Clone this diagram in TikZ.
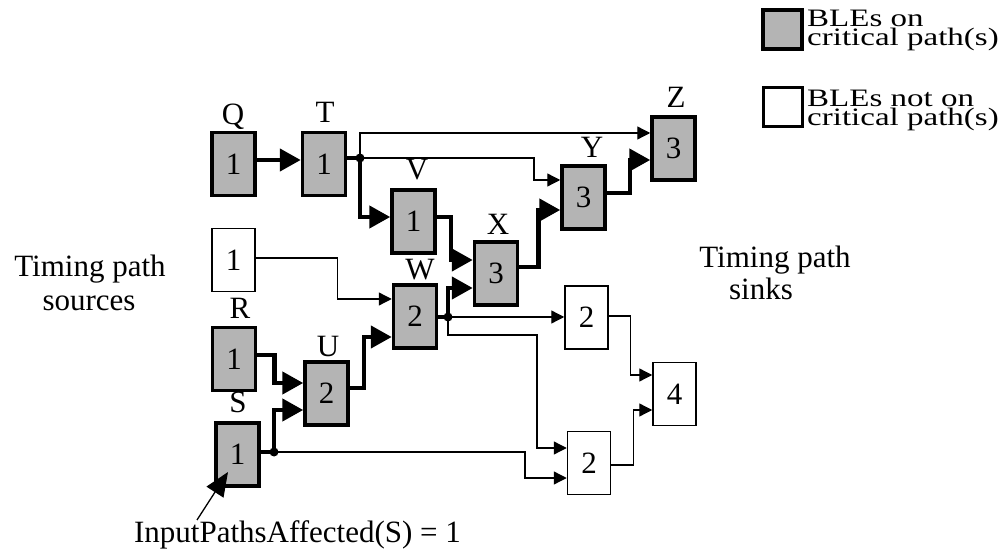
\documentclass[tikz,border=0pt]{standalone}
\usepackage{fontspec}
\setmainfont{Liberation Serif}
\usepackage{graphicx}
\usetikzlibrary{arrows.meta,calc}
\definecolor{critgray}{RGB}{180,180,180}
\tikzset{
  crit/.style={draw, line width=3.5pt, fill=critgray, minimum width=43pt, minimum height=63pt, inner sep=0pt, font=\fontsize{31}{35}\selectfont},
  noncrit/.style={draw, line width=1.5pt, fill=white, minimum width=43pt, minimum height=63pt, inner sep=0pt, font=\fontsize{31}{35}\selectfont},
  lbl/.style={anchor=base, inner sep=0pt, font=\fontsize{31}{35}\selectfont},
  thickarrow/.style={line width=4.5pt, -{Triangle[length=21pt,width=22pt]}},
  thickline/.style={line width=4.5pt},
  thinarrow/.style={line width=1.3pt, -{Triangle[length=13pt,width=13pt]}},
  thinline/.style={line width=1.3pt},
  legtext/.style={anchor=base west, inner sep=0pt},
}
\newcommand{\legfont}[1]{\scalebox{1}[0.76]{\fontsize{33}{36}\selectfont #1}}
\begin{document}
\begin{tikzpicture}[x=1pt,y=-1pt]
\useasboundingbox (0,0) rectangle (1002,553);
% legend
\node[draw, line width=3.5pt, fill=critgray, minimum width=39pt, minimum height=39pt, inner sep=0pt] (legcrit) at (782.5,29.5) {};
\node[draw, line width=3pt, fill=white, minimum width=39pt, minimum height=39pt, inner sep=0pt] (legnon) at (782.5,107.5) {};
\node[legtext] (lt1) at (807,27) {\legfont{BLEs on}};
\node[legtext] (lt2) at (807,46) {\legfont{critical path(s)}};
\node[legtext] (lt3) at (807,107) {\legfont{BLEs not on}};
\node[legtext] (lt4) at (807,126) {\legfont{critical path(s)}};
% side texts
\node[lbl] (src1) at (90,277) {Timing path};
\node[lbl] (src2) at (89,311) {sources};
\node[lbl] (snk1) at (775,268) {Timing path};
\node[lbl] (snk2) at (761,300) {sinks};
% boxes
\node[crit] (Q) at (233.5,164) {1};
\node[crit] (T) at (324,164) {1};
\node[crit] (V) at (413.5,221.5) {1};
\node[crit] (X) at (496,273.5) {3};
\node[crit] (Y) at (583.5,197.5) {3};
\node[crit] (Z) at (673.5,148.5) {3};
\node[noncrit] (N1) at (233.5,260) {1};
\node[crit] (W) at (415,316.5) {2};
\node[crit] (R) at (234,359) {1};
\node[crit] (U) at (326.5,393.5) {2};
\node[crit] (S) at (237.5,454.5) {1};
\node[noncrit] (A) at (586.5,317.5) {2};
\node[noncrit] (B) at (589,463) {2};
\node[noncrit] (C) at (674.5,394) {4};
% box labels
\node[lbl] (lQ) at (233,125) {Q};
\node[lbl] (lT) at (325,123) {T};
\node[lbl] (lV) at (417,180) {V};
\node[lbl] (lZ) at (676,108) {Z};
\node[lbl] (lY) at (592,158) {Y};
\node[lbl] (lX) at (498,235) {X};
\node[lbl] (lW) at (420,280) {W};
\node[lbl] (lR) at (240,319) {R};
\node[lbl] (lU) at (328,357) {U};
\node[lbl] (lS) at (238,413) {S};
% junction dots
\coordinate (dotT) at (360,158);
\coordinate (dotW) at (448,317);
\coordinate (dotS) at (274,452);
% connectors
\draw[thickarrow] ([yshift=4pt]Q.east) -- ([yshift=4pt]T.west);
\draw[thickline] ([yshift=6pt]T.east) -- (dotT);
\draw[thinarrow] (dotT) |- ([yshift=15.5pt]Z.west);
\draw[thinarrow] (dotT) -- ++(174,0) |- ([yshift=17.5pt]Y.west);
\draw[thickarrow] (dotT) |- ([yshift=4.5pt]V.west);
\draw[thickarrow] ([yshift=4.5pt]V.east) -- ++(14,0) |- ([yshift=13.5pt]X.west);
\draw[thickline] ([yshift=-0.5pt]W.east) -- (dotW);
\draw[thickarrow] (dotW) |- ([yshift=-14.5pt]X.west);
\draw[thinarrow] (dotW) -- (dotW -| A.west);
\draw[thinarrow] (dotW) -- ++(0,18) -- ++(89,0) |- ([yshift=15pt]B.west);
\draw[thickarrow] ([yshift=6.5pt]X.east) -- ++(19,0) |- ([yshift=-12.5pt]Y.west);
\draw[thickarrow] ([yshift=4.5pt]Y.east) -- ++(23,0) |- ([yshift=-11.5pt]Z.west);
\draw[thinarrow] ([yshift=2pt]N1.east) -- ++(82,0) |- ([yshift=17.5pt]W.west);
\draw[thickarrow] ([yshift=4pt]R.east) -- ++(17,0) |- ([yshift=10.5pt]U.west);
\draw[thickarrow] ([yshift=5.5pt]U.east) -- ++(14,0) |- ([yshift=-20.5pt]W.west);
\draw[thickline] ([yshift=2.5pt]S.east) -- (dotS);
\draw[thickarrow] (dotS) |- ([yshift=-16.5pt]U.west);
\draw[thinarrow] (dotS) -- ++(251,0) |- ([yshift=-15pt]B.west);
\draw[thinarrow] ([yshift=1.5pt]A.east) -- ++(22,0) |- ([yshift=19pt]C.west);
\draw[thinarrow] ([yshift=-2pt]B.east) -- ++(22,0) |- ([yshift=-16pt]C.west);
\fill (dotT) circle (4.5pt);
\fill (dotW) circle (4.5pt);
\fill (dotS) circle (4.5pt);
% annotation
\node[lbl] (ann) at (297.5,542) {InputPathsAffected(S) = 1};
\draw[line width=1.3pt, -{Triangle[length=24pt,width=20pt]}] ([xshift=-100.5pt]ann.north) -- ([xshift=-9.5pt,yshift=-17.5pt]S.center);
\end{tikzpicture}
\end{document}
